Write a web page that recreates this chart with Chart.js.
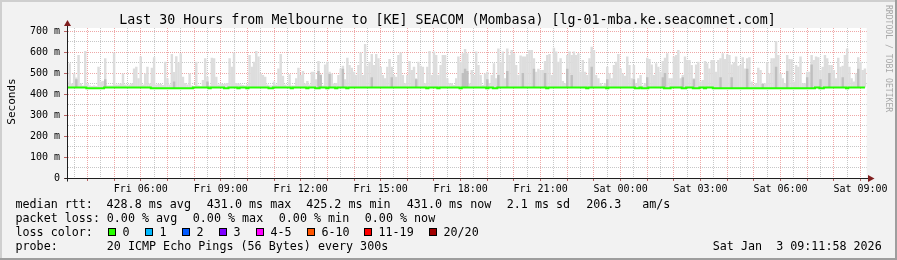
<!DOCTYPE html>
<html><head><meta charset="utf-8">
<script src="https://cdn.jsdelivr.net/npm/chart.js@4/dist/chart.umd.min.js"></script>
<style>html,body{margin:0;padding:0;background:#f2f2f2;overflow:hidden}canvas{display:block}</style>
</head><body>
<canvas id="c" width="897" height="260" style="width:897px;height:260px"></canvas>
<script>
// ---- time axis (hours since Fri 00:00) ----
const START_HOUR = 3.25;          // first 300 s sample
const STEP_HOURS = 1 / 12;        // 300 s
const X_MIN = 3.233, X_MAX = 33.233;
const Y_MIN = 0, Y_MAX = 714.3;

// ---- smoke: highest ping of each 300 s round (ms) ----
const smokeMax = [
460,546,450,498,478,586,450,440,605,450, 440,438,440,438,530,460,462,570,440,440,
440,598,445,445,450,498,445,442,445,450, 522,530,475,578,445,498,530,450,525,575,
445,448,448,443,553,475,445,590,505,580, 550,594,482,452,445,498,440,438,553,440,
438,467,570,482,440,573,570,482,445,450, 448,450,452,570,530,598,452,450,445,443,
440,445,586,530,553,605,578,498,490,482, 445,440,440,459,445,522,590,487,445,440,
494,440,440,475,525,490,510,450,462,445, 506,506,470,557,494,440,541,554,506,498,
450,452,490,522,535,470,573,538,525,506, 490,538,598,490,638,535,554,590,538,590,
570,530,490,475,530,567,530,490,482,586, 598,490,451,490,557,514,530,475,554,535,
530,451,530,605,490,602,586,490,538,586, 586,475,451,451,443,475,578,554,594,614,
594,450,514,490,602,538,490,443,498,506, 451,490,546,475,617,554,602,475,617,586,
610,594,538,490,583,578,578,590,610,610, 570,506,520,514,514,557,586,590,490,620,
602,554,570,462,451,586,602,586,602,586, 594,506,562,506,490,570,625,610,490,475,
451,440,451,530,498,475,538,554,590,522, 498,487,578,538,475,538,451,475,490,440,
451,573,567,541,490,546,530,506,557,573, 594,475,475,578,586,610,475,490,578,562,
562,538,475,541,554,459,467,557,546,522, 562,562,506,562,570,594,567,589,586,541,
550,578,535,538,575,522,570,575,459,443, 451,525,514,451,451,551,498,570,570,652,
586,498,475,451,586,567,565,459,538,530, 578,451,451,506,506,586,562,578,575,514,
530,586,570,538,538,514,475,573,530,535, 586,617,530,475,459,498,575,554,514,522
];

// ---- median rtt of each round (ms) ----
const medianRtt = [
431,431,431,431,431,431,431,431,431,427, 427,427,427,427,427,427,427,431,431,431,
431,431,431,431,431,431,431,431,431,431, 431,431,431,431,431,431,431,431,427,427,
427,427,427,427,427,427,427,427,427,427, 427,427,427,427,427,427,427,431,431,431,
431,431,431,431,427,431,431,431,431,431, 431,427,427,431,431,431,431,427,431,431,
431,427,431,431,431,431,431,431,431,431, 431,427,427,431,431,431,431,431,431,431,
431,427,431,431,431,431,431,431,427,431, 431,431,427,427,431,431,431,427,431,431,
431,427,431,431,431,431,427,431,431,431, 431,431,431,431,431,431,431,431,431,431,
431,431,431,431,431,431,431,431,431,431, 431,431,431,431,431,431,431,431,431,431,
431,431,427,431,431,431,431,427,431,431, 431,431,431,431,431,431,431,427,431,431,
431,431,431,431,431,431,431,431,431,427, 431,431,427,427,431,431,431,431,431,431,
431,431,431,431,431,431,431,431,431,431, 431,431,431,431,431,431,427,431,431,431,
431,431,431,431,431,431,431,431,431,431, 431,431,431,431,427,431,431,431,431,431,
431,431,431,427,431,431,431,431,431,431, 431,431,431,431,431,431,427,427,431,427,
427,427,431,431,431,431,431,431,431,427, 427,427,431,431,431,431,431,427,427,431,
431,431,427,427,427,431,431,427,431,431, 431,427,427,427,427,427,427,427,427,427,
427,427,427,427,427,427,427,427,427,427, 427,427,427,427,427,427,427,427,427,427,
427,427,427,427,427,427,427,427,427,427, 427,427,427,427,427,427,427,431,431,427,
427,431,431,431,431,431,431,431,431,431, 431,427,431,431,431,431,431,431,431,431
];

// ---- darker smoke (denser part of the ping spread) ----
const midIdx = [4,17,48,63,113,114,118,124,137,146,157,178,179,180,189,194,198,205,210,215,225,227,236,243,255,261,268,269,277,282,294,299,306,313,319,324,333,335,339,343,349,356];
const midTop = [470,470,460,460,510,490,495,520,480,480,470,500,520,510,470,490,510,500,520,500,520,490,530,470,470,480,480,500,480,470,480,480,520,448,530,510,480,540,470,500,480,520];

// ---- axis labels ----
const xTickHours  = [6, 9, 12, 15, 18, 21, 24, 27, 30, 33];
const xTickLabels = ['Fri 06:00','Fri 09:00','Fri 12:00','Fri 15:00','Fri 18:00','Fri 21:00','Sat 00:00','Sat 03:00','Sat 06:00','Sat 09:00'];
const yTickValues = [0, 100, 200, 300, 400, 500, 600, 700];
const yTickLabels = ['0','100 m','200 m','300 m','400 m','500 m','600 m','700 m'];

// ---- texts ----
const titleText = 'Last 30 Hours from Melbourne to [KE] SEACOM (Mombasa) [lg-01-mba.ke.seacomnet.com]';
const yTitle = 'Seconds';
const watermark = 'RRDTOOL / TOBI OETIKER';
const rowMedian = [[15.5,'median rtt:'],[106.5,'428.8 ms avg'],[206.8,'431.0 ms max'],[306.2,'425.2 ms min'],[406.8,'431.0 ms now'],[506.8,'2.1 ms sd'],[586.2,'206.3'],[642.2,'am/s']];
const rowLoss = [[15.5,'packet loss:'],[106.8,'0.00 % avg'],[192.8,'0.00 % max'],[278.8,'0.00 % min'],[364.8,'0.00 % now']];
const lossLabels = ['0','1','2','3','4-5','6-10','11-19','20/20'];
const lossColors = ['#26ff00','#00b8ff','#0059ff','#7e00ff','#ff00ff','#ff5500','#ff0000','#a10000'];
const lossBoxX = [108,145,182,219,256,307,364,429];
const rowProbe = [[15.5,'probe:'],[106.8,'20 ICMP Echo Pings (56 Bytes) every 300s'],[712.8,'Sat Jan  3 09:11:58 2026']];

const FONT = "'DejaVu Sans Mono', monospace";
const MAJ = 'rgba(222,79,79,0.5)';
const MIN = 'rgba(143,143,143,0.5)';

const tOf = i => START_HOUR + i * STEP_HOURS;
const smokeLight = smokeMax.map((v, i) => ({x: tOf(i), y: [medianRtt[i], v]}));
const smokeDark = midIdx.map((k, j) => ({x: tOf(k), y: [medianRtt[k], midTop[j]]}));
const medianPts = medianRtt.map((v, i) => ({x: tOf(i), y: v}));

const frame = {
  id: 'frame',
  beforeDraw(chart) {
    const c = chart.ctx, a = chart.chartArea;
    c.save();
    c.fillStyle = '#f2f2f2'; c.fillRect(0, 0, 897, 260);
    c.fillStyle = '#cfcfcf'; c.fillRect(0, 0, 897, 2); c.fillRect(0, 0, 2, 260);
    c.fillStyle = '#9e9e9e'; c.fillRect(0, 258, 897, 2); c.fillRect(895, 0, 2, 260);
    c.fillStyle = '#ffffff'; c.fillRect(a.left, a.top, a.right - a.left, a.bottom - a.top);
    c.restore();
  },
  afterDraw(chart) {
    const c = chart.ctx, a = chart.chartArea;
    c.save();
    // axis extensions + arrows
    const ax = Math.round(a.left) + 0.5, ay = Math.round(a.bottom) + 0.5;
    c.strokeStyle = '#1f1f1f'; c.lineWidth = 1;
    c.beginPath(); c.moveTo(ax, ay + 3); c.lineTo(ax, 25); c.stroke();
    c.beginPath(); c.moveTo(ax - 3, ay); c.lineTo(869, ay); c.stroke();
    c.fillStyle = '#801f1f';
    c.beginPath(); c.moveTo(ax, 20); c.lineTo(ax - 3.5, 26); c.lineTo(ax + 3.5, 26); c.closePath(); c.fill();
    c.beginPath(); c.moveTo(874.5, ay); c.lineTo(868, ay - 3.5); c.lineTo(868, ay + 3.5); c.closePath(); c.fill();
    // title
    c.fillStyle = '#000';
    c.font = '13.3px ' + FONT; c.textAlign = 'center'; c.textBaseline = 'alphabetic';
    c.fillText(titleText, 447.5, 24);
    // y title
    c.save(); c.translate(14.5, 101.5); c.rotate(-Math.PI / 2);
    c.font = '11px ' + FONT; c.textAlign = 'center'; c.fillText(yTitle, 0, 0); c.restore();
    // watermark
    c.save(); c.translate(885.5, 5); c.rotate(Math.PI / 2);
    c.font = '8.1px ' + FONT; c.textAlign = 'left'; c.fillStyle = '#a8a8a8'; c.fillText(watermark, 0, 0); c.restore();
    // legend
    c.font = '11.7px ' + FONT; c.textAlign = 'left'; c.fillStyle = '#000';
    rowMedian.forEach(([x, s]) => c.fillText(s, x, 208));
    rowLoss.forEach(([x, s]) => c.fillText(s, x, 222));
    c.fillText('loss color:', 15.5, 236);
    lossLabels.forEach((s, k) => {
      const bx = lossBoxX[k];
      c.fillStyle = lossColors[k]; c.fillRect(bx, 228, 8, 8);
      c.strokeStyle = '#000'; c.lineWidth = 1; c.strokeRect(bx + 0.5, 228.5, 7, 7);
      c.fillStyle = '#000'; c.fillText(s, bx + 14.5, 236);
    });
    rowProbe.forEach(([x, s]) => c.fillText(s, x, 250));
    c.restore();
  }
};

new Chart(document.getElementById('c'), {
  type: 'bar',
  data: {datasets: [
    {type: 'line', data: medianPts, borderColor: '#26ff00', borderWidth: 2, pointRadius: 0, stepped: 'middle', fill: false, order: 0},
    {type: 'bar', data: smokeDark, backgroundColor: '#bfbfbf', borderWidth: 0, barPercentage: 1.1, categoryPercentage: 1, grouped: false, order: 1},
    {type: 'bar', data: smokeLight, backgroundColor: '#dddddd', borderWidth: 0, barPercentage: 1.1, categoryPercentage: 1, grouped: false, order: 2}
  ]},
  options: {
    responsive: false, animation: false, devicePixelRatio: 1,
    layout: {padding: {left: 0, top: 28, right: 30.3, bottom: 0}},
    plugins: {legend: {display: false}, tooltip: {enabled: false}, title: {display: false}},
    scales: {
      x: {
        type: 'linear', min: X_MIN, max: X_MAX, offset: false,
        afterFit(s) { s.height = 82; },
        afterBuildTicks(s) { const t = []; for (let h = 3.5; h <= 33; h += 0.5) t.push({value: h}); s.ticks = t; },
        ticks: {autoSkip: false, maxRotation: 0, minRotation: 0, padding: 2, color: '#000', font: {family: FONT, size: 10},
          callback(v) { const k = xTickHours.indexOf(v); return k >= 0 ? xTickLabels[k] : ''; }},
        grid: {offset: false, lineWidth: 1, tickLength: 3,
          color: c => (c.tick && c.tick.value % 1 === 0) ? MAJ : MIN,
          tickColor: c => (c.tick && c.tick.value % 1 === 0) ? 'rgba(160,40,40,0.7)' : 'rgba(0,0,0,0)'},
        border: {display: true, color: '#1f1f1f', width: 1, dash: [1, 1]}
      },
      y: {
        type: 'linear', min: Y_MIN, max: Y_MAX,
        afterFit(s) { s.width = 67; },
        afterBuildTicks(s) { const t = []; for (let v = 0; v <= 700; v += 50) t.push({value: v}); s.ticks = t; },
        ticks: {autoSkip: false, padding: 4, color: '#000', font: {family: FONT, size: 10},
          callback(v) { const k = yTickValues.indexOf(v); return k >= 0 ? yTickLabels[k] : ''; }},
        grid: {lineWidth: 1, tickLength: 3,
          color: c => (c.tick && c.tick.value % 100 === 0) ? MAJ : MIN,
          tickColor: c => (c.tick && c.tick.value % 100 === 0) ? 'rgba(160,40,40,0.7)' : 'rgba(0,0,0,0)'},
        border: {display: true, color: '#1f1f1f', width: 1, dash: [1, 1]}
      }
    }
  },
  plugins: [frame]
});
</script>
</body></html>
